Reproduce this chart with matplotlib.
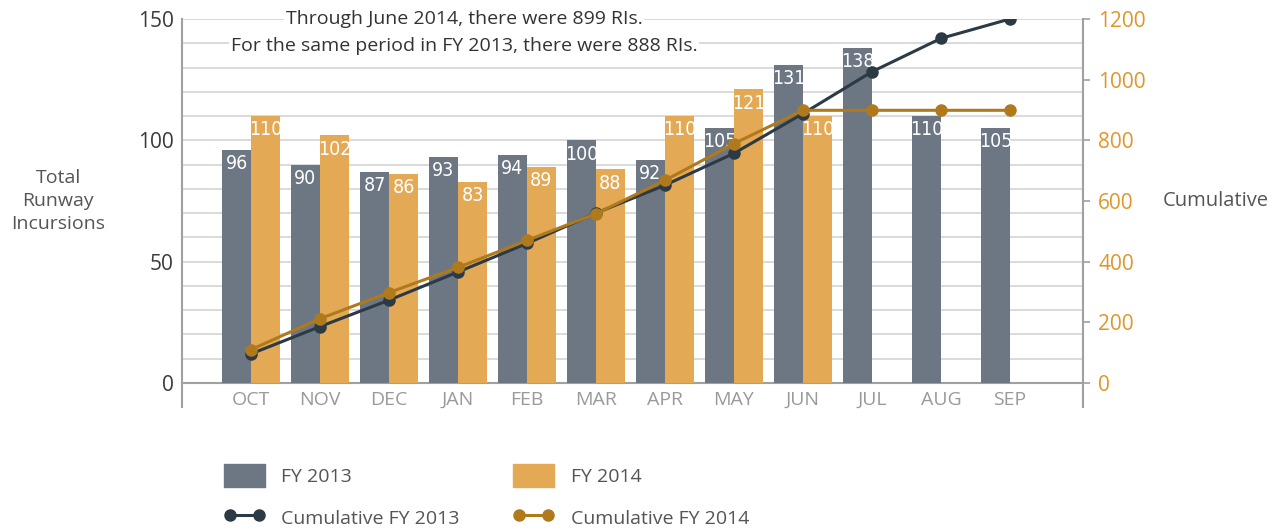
import matplotlib
matplotlib.use("Agg")
import matplotlib.pyplot as plt
from matplotlib.lines import Line2D
from matplotlib.patches import Patch
from matplotlib import font_manager
import numpy as np

months = ["OCT", "NOV", "DEC", "JAN", "FEB", "MAR", "APR", "MAY", "JUN", "JUL", "AUG", "SEP"]
fy2013 = [96, 90, 87, 93, 94, 100, 92, 105, 131, 138, 110, 105]
fy2014 = [110, 102, 86, 83, 89, 88, 110, 121, 110]
cum2013 = [96, 186, 273, 366, 460, 560, 652, 757, 888, 1026, 1136, 1200]
cum2014 = [110, 212, 298, 381, 470, 558, 668, 789, 899, 899, 899, 899]
note_lines = ["Through June 2014, there were 899 RIs.",
              "For the same period in FY 2013, there were 888 RIs."]

GREY = "#6d7683"
ORANGE = "#e3a954"
DARK = "#2b3a45"
LORANGE = "#b07a1c"
AXC = "#a0a0a0"
GRID = "#d4d4d4"
TXT = "#555555"
FONT = "Open Sans"

names = {f.name for f in font_manager.fontManager.ttflist}
cond = [f for f in font_manager.fontManager.ttflist
        if f.name == "DejaVu Sans" and "ondensed" in f.fname and "Bold" not in f.fname
        and "Oblique" not in f.fname]
if "Liberation Sans Narrow" in names:
    NARROW = dict(family="Liberation Sans Narrow")
elif cond:
    NARROW = dict(fontproperties=font_manager.FontProperties(fname=cond[0].fname, size=14))
else:
    NARROW = dict(family="DejaVu Sans", fontstretch="condensed")

plt.rcParams["font.family"] = [FONT, "DejaVu Sans"]

fig = plt.figure(figsize=(12.78, 5.29), dpi=100)
W, H = 1278, 529
x0, x1 = 182, 1083
ytop, ybot = 19, 407
ax = fig.add_axes([x0 / W, 1 - ybot / H, (x1 - x0) / W, (ybot - ytop) / H])

pxu = (383 - 19) / 150.0
ymin = -(ybot - 383) / pxu
ax.set_ylim(ymin, 150)
ax.set_xlim(-1.0, 12.06)

# grid
for g in range(10, 151, 10):
    ax.axhline(g, color=GRID, lw=1.2, zorder=0)
ax.axhline(0, color=AXC, lw=1.5, zorder=1)

x = np.arange(len(months))
bw = 0.42
b13 = ax.bar(x - bw / 2, fy2013, width=bw, color=GREY, zorder=2)
b14 = ax.bar(x[:len(fy2014)] + bw / 2, fy2014, width=bw, color=ORANGE, zorder=2)

for bars, vals in ((b13, fy2013), (b14, fy2014)):
    for r, v in zip(bars, vals):
        kw = dict(NARROW)
        if "fontproperties" not in kw:
            kw["fontsize"] = 14
        ax.annotate(str(v), (r.get_x() + r.get_width() / 2, v), xytext=(0, -3),
                    textcoords="offset points", ha="center", va="top",
                    color="white", zorder=3, **kw)

for xi, m in zip(x, months):
    ax.text(xi, -7.0, m, ha="center", va="center", color="#9a9a9a", fontsize=14)

ax.set_yticks([0, 50, 100, 150])
ax.set_yticklabels(["0", "50", "100", "150"], fontsize=15, color="#3a3a3a")
ax.tick_params(axis="y", length=0, pad=6)
ax.set_xticks([])
for s in ["top", "bottom"]:
    ax.spines[s].set_visible(False)
ax.spines["left"].set_color(AXC)
ax.spines["left"].set_linewidth(1.5)
ax.spines["right"].set_visible(False)

ax2 = ax.twinx()
ax2.set_ylim(ymin * 8, 1200)
ax2.plot(x, cum2013, color=DARK, lw=2.2, marker="o", ms=8, zorder=5)
ax2.plot(x, cum2014, color=LORANGE, lw=2.2, marker="o", ms=8, zorder=5)
ax2.set_yticks([0, 200, 400, 600, 800, 1000, 1200])
ax2.set_yticklabels(["0", "200", "400", "600", "800", "1000", "1200"], fontsize=15, color="#e0962a")
ax2.tick_params(axis="y", length=5, color=AXC, width=1.2, pad=6)
for s in ["top", "bottom", "left"]:
    ax2.spines[s].set_visible(False)
ax2.spines["right"].set_color(AXC)
ax2.spines["right"].set_linewidth(1.5)

# Note text
fig.text(464 / W, 1 - 19 / H, note_lines[0], ha="center", va="center", fontsize=14, color="#333333",
         bbox=dict(facecolor="white", edgecolor="none", pad=1))
fig.text(464 / W, 1 - 46 / H, note_lines[1], ha="center", va="center", fontsize=14, color="#333333",
         bbox=dict(facecolor="white", edgecolor="none", pad=1))

fig.text(58 / W, 1 - 201 / H, "Total\nRunway\nIncursions", ha="center", va="center",
         fontsize=14, color=TXT, linespacing=1.35)
fig.text(1216 / W, 1 - 201 / H, "Cumulative", ha="center", va="center", fontsize=14.5, color=TXT)

handles = [Patch(color=GREY), Line2D([], [], color=DARK, lw=2.2, marker="o", ms=8),
           Patch(color=ORANGE), Line2D([], [], color=LORANGE, lw=2.2, marker="o", ms=8)]
labels = ["FY 2013", "Cumulative FY 2013", "FY 2014", "Cumulative FY 2014"]
leg = fig.legend(handles, labels, ncol=2, loc="upper left", bbox_to_anchor=(224 / W, 1 - 464 / H),
                 frameon=False, fontsize=14, handlelength=2.1, handleheight=1.45,
                 handletextpad=0.85, columnspacing=2.75, labelspacing=0.95, numpoints=2,
                 borderpad=0, borderaxespad=0)
for t in leg.get_texts():
    t.set_color(TXT)

fig.savefig("out.png", dpi=100)
